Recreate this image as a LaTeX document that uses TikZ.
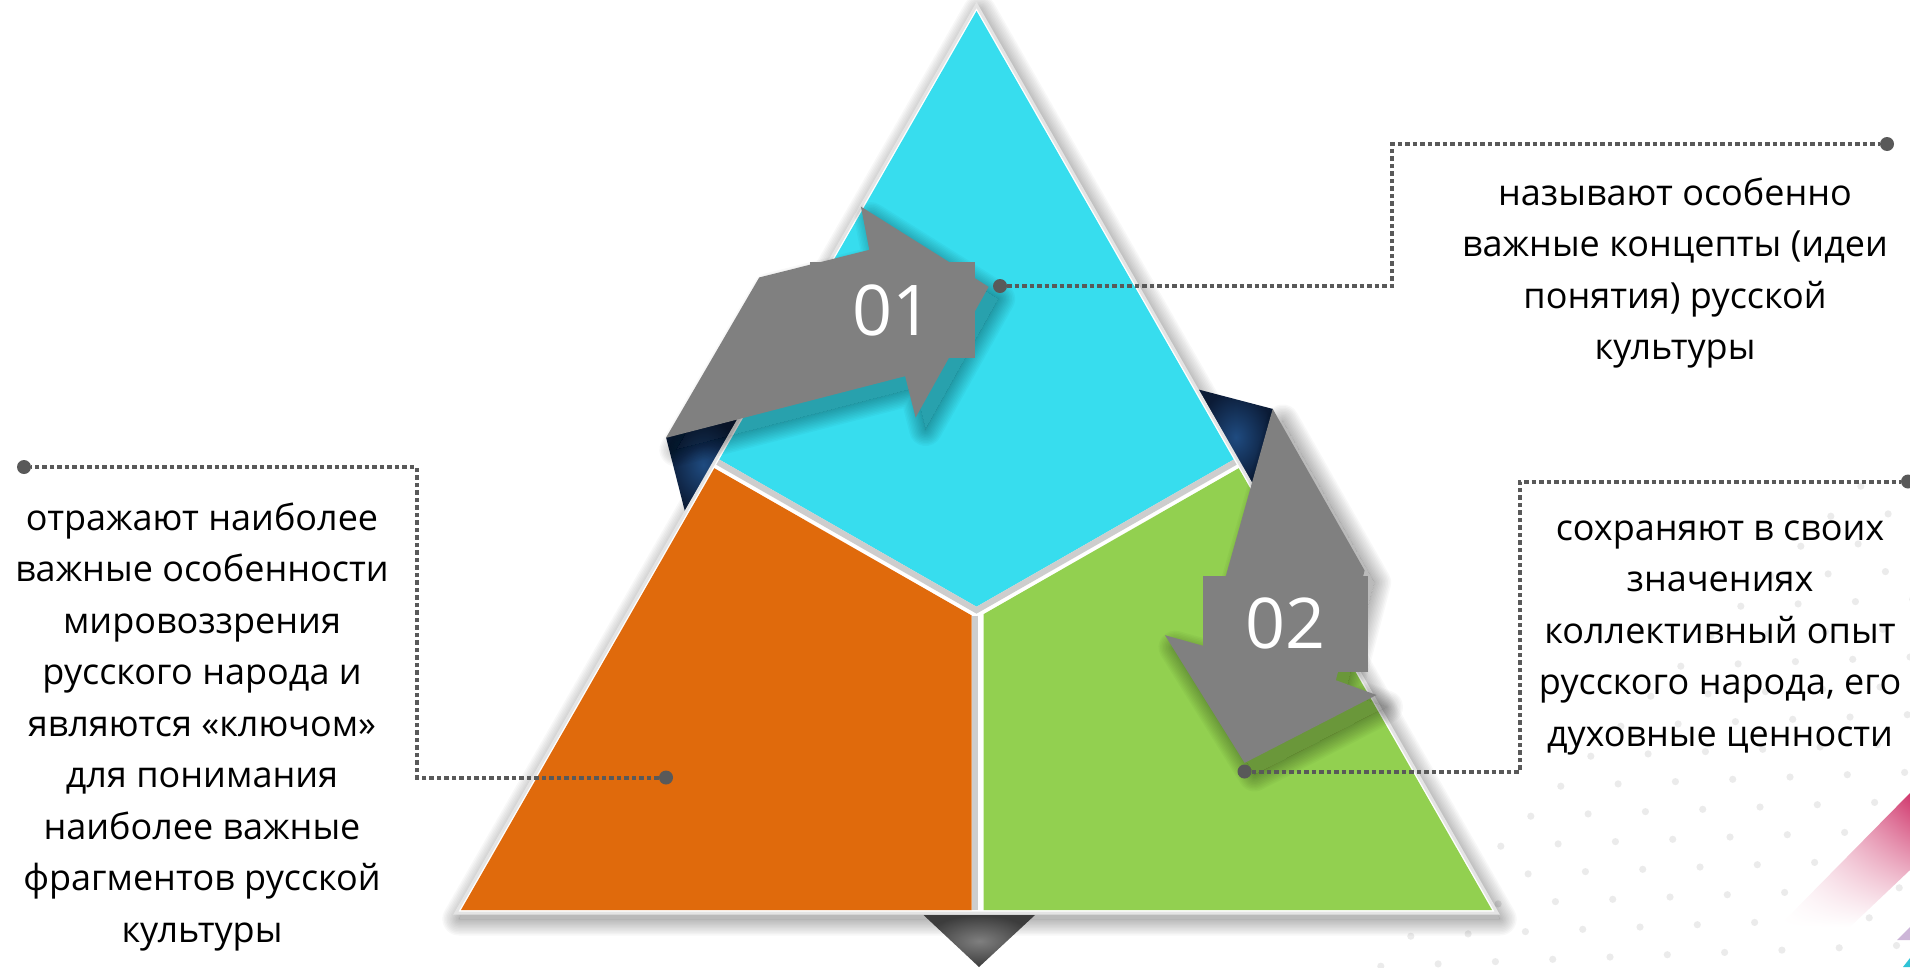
\documentclass[tikz,border=0pt]{standalone}
\usepackage{fontspec}
\setmainfont{Open Sans}
\usepackage{tikz}
\usepackage{xcolor}
\usetikzlibrary{shadings}
\definecolor{tri-cyan}{HTML}{37DDEE}
\definecolor{tri-orange}{HTML}{E06A0C}
\definecolor{tri-green}{HTML}{92D050}
\definecolor{arrow-gray}{HTML}{808080}
\definecolor{navy-light}{HTML}{1F4B80}
\definecolor{navy-dark}{HTML}{0B1B36}
\definecolor{tip-light}{HTML}{7F7F7F}
\definecolor{tip-dark}{HTML}{3C3C3C}
\definecolor{leader-gray}{HTML}{595959}
\definecolor{gap-gray}{HTML}{CDCDCD}
\definecolor{rim-gray}{HTML}{E4E4E4}
\definecolor{dot-gray}{HTML}{EBEBEB}
\definecolor{stripe-pink}{HTML}{D0376C}
\definecolor{corner-purple}{HTML}{CDB6D8}
\definecolor{corner-cyan}{HTML}{2FC3D6}
\tikzset{
    num-box/.style = {fill=arrow-gray, text=white, inner sep=0pt, minimum width=165pt, minimum height=96pt, font=\fontsize{70pt}{70pt}\selectfont},
    leader-line/.style = {draw=leader-gray, line width=4pt, dash pattern=on 4.5pt off 3pt},
    leader-dot/.style = {circle, fill=leader-gray, inner sep=0pt, minimum size=14pt},
    info-text/.style = {align=center, text=black, font=\fontsize{36pt}{51.5pt}\selectfont},
    gap-band/.style = {draw=gap-gray, line width=6pt},
    soft/.style = {black, draw opacity=0.028, line join=round},
}
\newcommand{\outerTri}{(976.5,5) -- (1497.2,913) -- (455.8,913) -- cycle}
\newcommand{\arrowOne}{(665.9,437.9) -- (759.2,277.5) -- (869.3,249.8) -- (860.9,206.6) -- (988.6,286.8) -- (915.6,417.5) -- (905.1,376.2) -- cycle}
\newcommand{\arrowTwo}{(1272.7,408.9) -- (1364.6,570.5) -- (1335.8,680.2) -- (1376.5,695) -- (1244.6,762.9) -- (1165,635.2) -- (1206,646.6) -- cycle}
\newcommand{\softShadow}[2]{%
  \begin{scope}[shift={#1}]
    \fill[black, fill opacity=0.27] #2;
    \begin{scope}[even odd rule]
      \clip (-60,-60) rectangle (1970,1030) #2;
      \foreach \w in {33,30,...,3} \draw[soft, line width=\w pt] #2;
    \end{scope}
  \end{scope}}

\begin{document}
\begin{tikzpicture}[x=1pt, y=-1pt]
\useasboundingbox (0,0) rectangle (1910,967);

\foreach \i in {-12,...,7}
  \foreach \j in {-10,...,7} {
    \pgfmathsetmacro\dotx{1732.7+57.3*\i-30*\j}
    \pgfmathsetmacro\doty{779.3-2.3*\i+30*\j}
    \pgfmathtruncatemacro\keepdot{(\dotx+\doty>2320)*(\dotx<1915)*(\doty<972)*(\doty>470)}
    \ifnum\keepdot=1 \fill[dot-gray] (\dotx,\doty) circle[radius=3.6pt]; \fi
  }
\shade[upper right=stripe-pink, upper left=white, lower left=white, lower right=white] (1910,793) -- (1778,927) -- (1850,927) -- (1910,870) -- cycle;
\fill[corner-purple] (1897,940) -- (1910,927) -- (1910,940) -- cycle;
\fill[corner-cyan] (1903,967) -- (1910,958) -- (1910,967) -- cycle;

\softShadow{(3,6)}{\outerTri}
\shade[inner color=navy-light, outer color=navy-dark] (666,437.3) -- (740.7,418.3) -- (685,511.7) -- cycle;
\shade[inner color=navy-light, outer color=navy-dark] (1198.5,389.5) -- (1273,409) -- (1252,485) -- cycle;
\shade[inner color=tip-light, outer color=tip-dark] (923.5,915) -- (1035,915) -- (979,967) -- cycle;
\filldraw[fill=white, draw=rim-gray, line width=3pt] \outerTri;

\fill[tri-cyan] (976.5,11) -- (1233.7,459.5) -- (976.5,606.7) -- (719.3,459.5) -- cycle;
\fill[tri-orange] (714.3,468.2) -- (971.7,615.5) -- (971.7,910) -- (461,910) -- cycle;
\fill[tri-green] (983.7,614.1) -- (1238.7,468.2) -- (1492,910) -- (983.7,910) -- cycle;
\begin{scope}
\clip \outerTri;
\draw[gap-band] (717.8,462.1) -- (976.5,610.2) -- (1235.2,462.1);
\draw[gap-band] (974.7,615.5) -- (974.7,910);
\end{scope}

\softShadow{(10,12)}{\arrowOne}
\fill[arrow-gray] \arrowOne;
\softShadow{(10,12)}{\arrowTwo}
\fill[arrow-gray] \arrowTwo;
\node[num-box] (num-one) at (892.5,310) {01};
\node[num-box] (num-two) at (1285.6,623.5) {02};

\node[leader-dot] (dot-one) at (1000,286) {};
\node[leader-dot] (dot-one-end) at (1887,144) {};
\coordinate (bend-one) at (1392,286);
\draw[leader-line] (dot-one) -- (bend-one) |- (dot-one-end);

\node[leader-dot] (dot-two) at (1244.5,771.5) {};
\node[leader-dot] (dot-two-end) at (1908,481.5) {};
\coordinate (bend-two) at (1520,771.5);
\draw[leader-line] (dot-two) -- (bend-two) |- (dot-two-end);

\node[leader-dot] (dot-three) at (666,777.5) {};
\node[leader-dot] (dot-three-end) at (24,467) {};
\coordinate (bend-three) at (416.5,777.5);
\draw[leader-line] (dot-three) -- (bend-three) |- (dot-three-end);

\node[info-text] (txt-concepts) at (1675,273) {называют особенно\\важные концепты (идеи\\понятия) русской\\культуры};
\node[info-text] (txt-values) at (1720,638) {сохраняют в своих\\значениях\\коллективный опыт\\русского народа, его\\духовные ценности};
\node[info-text] (txt-worldview) at (202,727) {отражают наиболее\\важные особенности\\мировоззрения\\русского народа и\\являются «ключом»\\для понимания\\наиболее важные\\фрагментов русской\\культуры};
\end{tikzpicture}
\end{document}
